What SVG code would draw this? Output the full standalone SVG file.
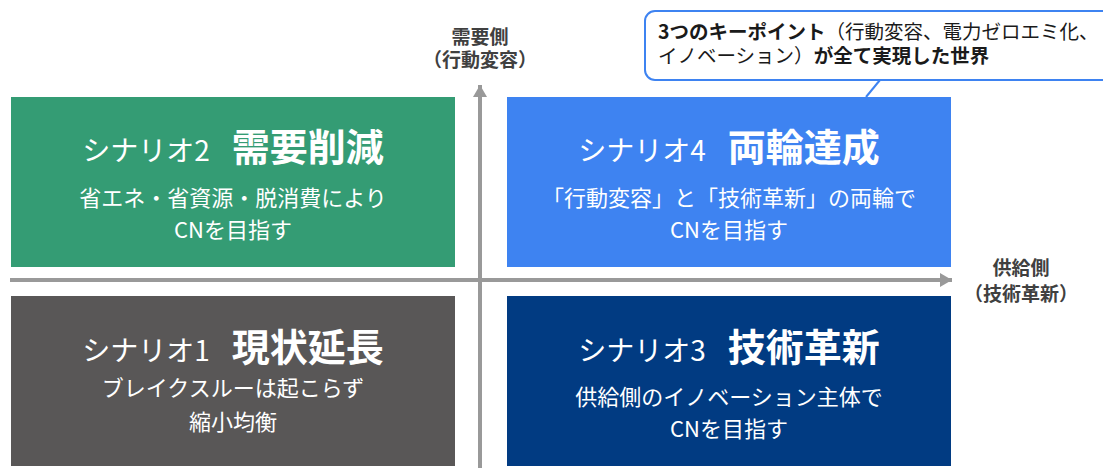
<svg xmlns="http://www.w3.org/2000/svg" width="1103" height="468" viewBox="0 0 1103 468">
<defs>
<style>
text{font-family:"Noto Sans CJK JP","Noto Sans",sans-serif;}
.w{fill:#ffffff;text-anchor:middle;}
.sc{font-size:28px;font-weight:400;}
.tt{font-size:38px;font-weight:700;}
.sub{font-size:22px;font-weight:400;}
.ax{fill:#404040;font-size:19px;font-weight:700;text-anchor:middle;}
.co{fill:#1a1a1a;font-size:19.5px;}
.axis{stroke:#999999;stroke-width:4;fill:none;}
</style>
<marker id="ah" viewBox="0 0 12 14" refX="12" refY="7" markerWidth="12" markerHeight="14" markerUnits="userSpaceOnUse" orient="auto">
<path d="M0,0 L12,7 L0,14 Z" fill="#999999"/>
</marker>
</defs>
<rect width="1103" height="468" fill="#ffffff"/>

<g id="connectors">
<line class="axis" x1="10" y1="280" x2="952" y2="280" marker-end="url(#ah)"/>
<line class="axis" x1="480" y1="468" x2="480" y2="85" marker-end="url(#ah)"/>
</g>

<g id="scenario2">
<rect x="11" y="97" width="444" height="170" fill="#349c74"/>
<text class="w" x="233" y="161"><tspan class="sc">シナリオ2</tspan><tspan class="tt" dx="22">需要削減</tspan></text>
<text class="w sub" x="233" y="206">省エネ・省資源・脱消費により</text>
<text class="w sub" x="233" y="238">CNを目指す</text>
</g>

<g id="scenario4">
<rect x="507" y="97" width="444" height="170" fill="#3e83f1"/>
<text class="w" x="729" y="161"><tspan class="sc">シナリオ4</tspan><tspan class="tt" dx="22">両輪達成</tspan></text>
<text class="w sub" x="729" y="206">「行動変容」と「技術革新」の両輪で</text>
<text class="w sub" x="729" y="238">CNを目指す</text>
</g>

<g id="scenario1">
<rect x="11" y="296" width="444" height="170" fill="#595757"/>
<text class="w" x="233" y="361"><tspan class="sc">シナリオ1</tspan><tspan class="tt" dx="22">現状延長</tspan></text>
<text class="w sub" x="233" y="396">ブレイクスルーは起こらず</text>
<text class="w sub" x="233" y="430">縮小均衡</text>
</g>

<g id="scenario3">
<rect x="507" y="296" width="444" height="170" fill="#013b82"/>
<text class="w" x="729" y="361"><tspan class="sc">シナリオ3</tspan><tspan class="tt" dx="22">技術革新</tspan></text>
<text class="w sub" x="729" y="405">供給側のイノベーション主体で</text>
<text class="w sub" x="729" y="437">CNを目指す</text>
</g>

<g id="label-demand">
<text class="ax" x="480" y="44">需要側</text>
<text class="ax" x="480" y="67">（行動変容）</text>
</g>

<g id="label-supply">
<text class="ax" x="1021" y="275">供給側</text>
<text class="ax" x="1021" y="301">（技術革新）</text>
</g>

<g id="callout">
<rect x="645" y="11" width="470" height="69" rx="10" ry="10" fill="#ffffff" stroke="#3e83f1" stroke-width="2"/>
<line x1="880" y1="80" x2="866" y2="97" stroke="#3e83f1" stroke-width="2"/>
<text class="co" x="658" y="39"><tspan font-weight="700">3つのキーポイント</tspan><tspan>（行動変容、電力ゼロエミ化、</tspan></text>
<text class="co" x="658" y="63"><tspan>イノベーション）</tspan><tspan font-weight="700">が全て実現した世界</tspan></text>
</g>
</svg>
